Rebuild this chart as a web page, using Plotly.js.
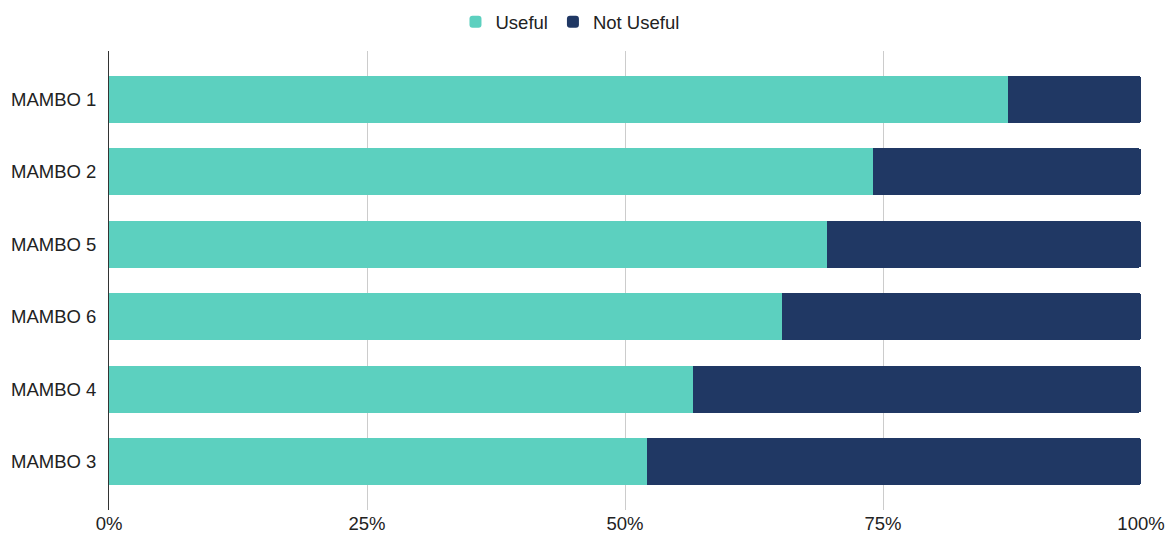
<!DOCTYPE html>
<html>
<head>
<meta charset="utf-8">
<script src="https://cdn.plot.ly/plotly-3.0.1.min.js"></script>
<style>html,body{margin:0;padding:0;background:#fff;}#chart{width:1174px;height:537px;}</style>
</head>
<body>
<div id="chart"></div>
<script>
const categories = ["MAMBO 1", "MAMBO 2", "MAMBO 5", "MAMBO 6", "MAMBO 4", "MAMBO 3"];
const useful = [87.1, 74.0, 69.6, 65.2, 56.6, 52.1];
const notUseful = [12.9, 26.0, 30.4, 34.8, 43.4, 47.9];
const tickVals = [0, 25, 50, 75, 100];
const tickText = ["0%", "25%", "50%", "75%", "100%"];

const font = {family: "Liberation Sans, Arial, sans-serif", size: 18.5, color: "#222"};

const traces = [
  {type: "bar", orientation: "h", name: "Useful", y: categories, x: useful,
   marker: {color: "#5cd0bf"}, hoverinfo: "x+y"},
  {type: "bar", orientation: "h", name: "Not Useful", y: categories, x: notUseful,
   marker: {color: "#203864"}, hoverinfo: "x+y"}
];

const layout = {
  width: 1174, height: 537,
  margin: {l: 109, r: 33, t: 51, b: 27},
  barmode: "stack", bargap: 0.35, barcornerradius: 3,
  paper_bgcolor: "#fff", plot_bgcolor: "#fff",
  font: font,
  showlegend: true,
  legend: {orientation: "h", x: 0.4855, xanchor: "center", xref: "container",
           y: 0.994, yanchor: "top", yref: "container", font: font,
           itemwidth: 30, traceorder: "normal"},
  xaxis: {range: [0, 100], tickvals: tickVals, ticktext: tickText,
          showgrid: true, gridcolor: "#cccccc", gridwidth: 1,
          zeroline: false, showline: false, ticks: "", fixedrange: true,
          tickfont: font},
  yaxis: {type: "category", autorange: false, range: [5.666, -0.666],
          showgrid: false, zeroline: false, showline: true, linecolor: "#333",
          linewidth: 1, ticks: "", ticklabelstandoff: 8, tickfont: font}
};

Plotly.newPlot("chart", traces, layout, {displayModeBar: false, staticPlot: true});
</script>
</body>
</html>
